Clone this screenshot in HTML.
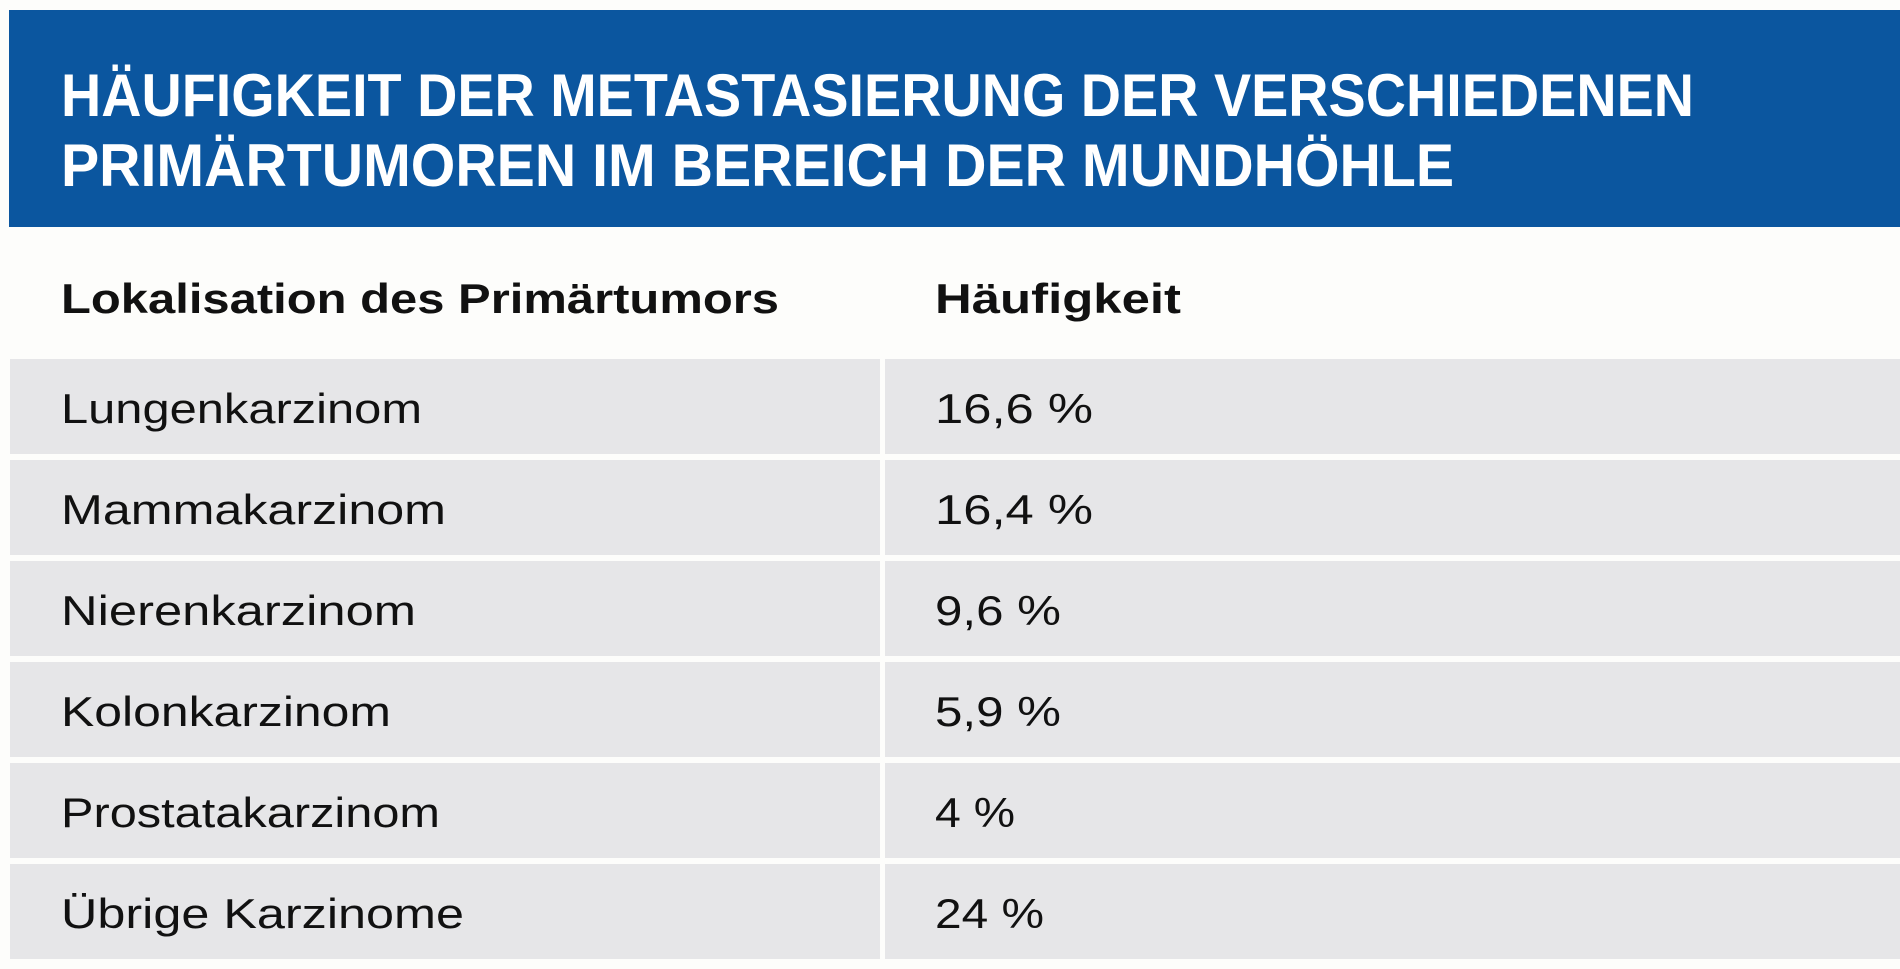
<!DOCTYPE html>
<html><head><meta charset="utf-8"><style>
html,body{margin:0;padding:0;background:#fdfdfb;}
svg{display:block;}
text{font-family:"Liberation Sans",sans-serif;}
</style></head><body>
<svg width="1900" height="969" viewBox="0 0 1900 969" xmlns="http://www.w3.org/2000/svg">
<rect x="0" y="0" width="1900" height="969" fill="#fdfdfb"/>
<rect x="9" y="10" width="1891" height="217" fill="#0b569f"/>
<text x="61" y="116" font-size="60" font-weight="bold" fill="#fff" textLength="1633" lengthAdjust="spacingAndGlyphs">HÄUFIGKEIT DER METASTASIERUNG DER VERSCHIEDENEN</text>
<text x="61" y="186" font-size="60" font-weight="bold" fill="#fff" textLength="1393" lengthAdjust="spacingAndGlyphs">PRIMÄRTUMOREN IM BEREICH DER MUNDHÖHLE</text>
<text x="61" y="313" font-size="42" font-weight="bold" fill="#111" textLength="718" lengthAdjust="spacingAndGlyphs">Lokalisation des Primärtumors</text>
<text x="935" y="313" font-size="42" font-weight="bold" fill="#111" textLength="246" lengthAdjust="spacingAndGlyphs">Häufigkeit</text>
<g fill="#e6e6e8">
<rect x="10" y="359" width="870" height="95"/><rect x="885" y="359" width="1015" height="95"/>
<rect x="10" y="460" width="870" height="95"/><rect x="885" y="460" width="1015" height="95"/>
<rect x="10" y="561" width="870" height="95"/><rect x="885" y="561" width="1015" height="95"/>
<rect x="10" y="662" width="870" height="95"/><rect x="885" y="662" width="1015" height="95"/>
<rect x="10" y="763" width="870" height="95"/><rect x="885" y="763" width="1015" height="95"/>
<rect x="10" y="864" width="870" height="95"/><rect x="885" y="864" width="1015" height="95"/>
</g>
<g font-size="42" fill="#111">
<text x="61" y="423" textLength="361" lengthAdjust="spacingAndGlyphs">Lungenkarzinom</text>
<text x="935" y="423" textLength="158" lengthAdjust="spacingAndGlyphs">16,6 %</text>
<text x="61" y="524" textLength="385" lengthAdjust="spacingAndGlyphs">Mammakarzinom</text>
<text x="935" y="524" textLength="158" lengthAdjust="spacingAndGlyphs">16,4 %</text>
<text x="61" y="625" textLength="355" lengthAdjust="spacingAndGlyphs">Nierenkarzinom</text>
<text x="935" y="625" textLength="126" lengthAdjust="spacingAndGlyphs">9,6 %</text>
<text x="61" y="726" textLength="330" lengthAdjust="spacingAndGlyphs">Kolonkarzinom</text>
<text x="935" y="726" textLength="126" lengthAdjust="spacingAndGlyphs">5,9 %</text>
<text x="61" y="827" textLength="379" lengthAdjust="spacingAndGlyphs">Prostatakarzinom</text>
<text x="935" y="827" textLength="80" lengthAdjust="spacingAndGlyphs">4 %</text>
<text x="61" y="928" textLength="403" lengthAdjust="spacingAndGlyphs">Übrige Karzinome</text>
<text x="935" y="928" textLength="109" lengthAdjust="spacingAndGlyphs">24 %</text>
</g>
</svg>
</body></html>
